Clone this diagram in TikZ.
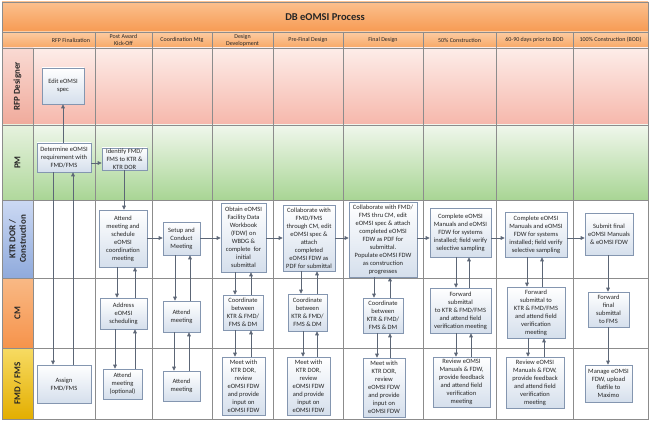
\documentclass[tikz,border=0pt]{standalone}
\usepackage{fontspec}
\setmainfont{Carlito}
\usetikzlibrary{arrows.meta,shadows}
\definecolor{gridc}{HTML}{8C8C8C}
\definecolor{titleTop}{HTML}{FBC08E}
\definecolor{titleBot}{HTML}{F79A52}
\definecolor{headTop}{HTML}{FCCCA2}
\definecolor{headBot}{HTML}{F8A765}
\definecolor{rfpTop}{HTML}{FDEDE9}
\definecolor{rfpBot}{HTML}{F6B7AB}
\definecolor{pmTop}{HTML}{F0F7EC}
\definecolor{pmBot}{HTML}{A8D594}
\definecolor{lrfpTop}{HTML}{F9DAD3}
\definecolor{lrfpBot}{HTML}{F0AA9B}
\definecolor{lpmTop}{HTML}{E6F2DE}
\definecolor{lpmBot}{HTML}{B0D89C}
\definecolor{lktrTop}{HTML}{CCD9F3}
\definecolor{lktrBot}{HTML}{8FAADC}
\definecolor{lcmTop}{HTML}{F9B985}
\definecolor{lcmBot}{HTML}{F6934B}
\definecolor{lfmdTop}{HTML}{F7DB63}
\definecolor{lfmdBot}{HTML}{E3AE00}
\definecolor{boxline}{HTML}{8496B0}
\definecolor{boxbot}{HTML}{D5DFEC}
\definecolor{boxtext}{HTML}{262626}
\definecolor{arrc}{HTML}{5C6676}
\definecolor{labtext}{HTML}{262626}
\newcommand\arrdn[3]{\draw[arr] (#3,0 |- #1.south) -- (#3,0 |- #2.north);}
\newcommand\arrup[3]{\draw[arr] (#3,0 |- #2.north) -- (#3,0 |- #1.south);}
\begin{document}
\begin{tikzpicture}[x=1pt,y=-1pt,
  grid/.style={draw=gridc,line width=0.7pt},
  box/.style={draw=boxline,line width=0.6pt,top color=white,bottom color=boxbot,
    align=center,inner sep=0.5pt,text=boxtext,
    font=\fontsize{6.5}{8}\selectfont,
    drop shadow={opacity=0.25,shadow xshift=1pt,shadow yshift=-1pt}},
  sz/.style 2 args={minimum width=#1pt,minimum height=#2pt},
  arr/.style={draw=arrc,line width=0.7pt,-{Triangle[length=4pt,width=3.6pt]}},
  head/.style={font=\fontsize{6}{7}\selectfont,text=labtext,align=center,inner sep=0pt},
  lanelab/.style={font=\bfseries\fontsize{9}{10.5}\selectfont,text=labtext,rotate=90,align=center,inner sep=0pt}]
\useasboundingbox (0,0) rectangle (650,422);
% backgrounds
\shade[top color=titleTop,bottom color=titleBot] (2,2) rectangle (648,32);
\shade[top color=headTop,bottom color=headBot] (2,32) rectangle (648,48);
\shade[top color=rfpTop,bottom color=rfpBot] (33,48) rectangle (648,125);
\shade[top color=pmTop,bottom color=pmBot] (33,125) rectangle (648,200);
\fill[white] (33,200) rectangle (648,419);
\shade[top color=lrfpTop,bottom color=lrfpBot] (2,48) rectangle (33,125);
\shade[top color=lpmTop,bottom color=lpmBot] (2,125) rectangle (33,200);
\shade[top color=lktrTop,bottom color=lktrBot] (2,200) rectangle (33,278);
\shade[top color=lcmTop,bottom color=lcmBot] (2,278) rectangle (33,348);
\shade[top color=lfmdTop,bottom color=lfmdBot] (2,348) rectangle (33,419);
% grid
\foreach \yy in {32,48,125,200,278,348}{\draw[grid] (2,\yy) -- (648,\yy);}
\draw[grid] (2,2) rectangle (648,419);
\draw[grid] (33,48) -- (33,419);
\foreach \xx in {95,152,212,273,343,423,496,573}{\draw[grid] (\xx,32) -- (\xx,419);}
% title and headers
\node[font=\bfseries\fontsize{10.5}{12}\selectfont,text=labtext] (title) at (325,17) {DB eOMSI Process};
\node[head] (h1) at (71,40) {RFP Finalization};
\node[head] (h2) at (123.5,40) {Post Award\\Kick-Off};
\node[head] (h3) at (182,40) {Coordination Mtg};
\node[head] (h4) at (242.5,40) {Design\\Development};
\node[head] (h5) at (308,40) {Pre-Final Design};
\node[head] (h6) at (383,40) {Final Design};
\node[head] (h7) at (459.5,40) {50\% Construction};
\node[head] (h8) at (534.5,40) {60-90 days prior to BOD};
\node[head] (h9) at (610.5,40) {100\% Construction (BOD)};
% lane labels
\node[lanelab] (lrfp) at (17.5,86.5) {RFP Designer};
\node[lanelab] (lpm) at (17.5,162.5) {PM};
\node[lanelab] (lktr) at (17.5,239) {KTR DOR /\\Construction};
\node[lanelab] (lcm) at (17.5,313) {CM};
\node[lanelab] (lfmd) at (17.5,383.5) {FMD / FMS};
% boxes
\node[box,sz={42}{36}] (edit) at (63,86) {Edit eOMSI\\spec};
\node[box,sz={54}{29}] (det) at (64,157.5) {Determine eOMSI\\requirement with\\FMD/FMS};
\node[box,sz={45}{22}] (ident) at (124.5,159) {Identify FMD/\\FMS to KTR \&\\KTR DOR};
\node[box,sz={48}{57}] (attsch) at (123,238.5) {Attend\\meeting and\\schedule\\eOMSI\\coordination\\meeting};
\node[box,sz={37}{33}] (setup) at (181.5,238.5) {Setup and\\Conduct\\Meeting};
\node[box,sz={45}{69}] (obtain) at (243.5,237.5) {Obtain eOMSI\\Facility Data\\Workbook\\(FDW) on\\WBDG \&\\complete\ \ for\\initial\\submittal};
\node[box,sz={52}{66}] (collab1) at (309,238) {Collaborate with\\FMD/FMS\\through CM, edit\\eOMSI spec \&\\attach\\completed\\eOMSI FDW as\\PDF for submittal};
\node[box,sz={68}{75}] (collab2) at (383,239.5) {Collaborate with FMD/\\FMS thru CM, edit\\eOMSI spec \& attach\\completed eOMSI\\FDW as PDF for\\submittal.\\Populate eOMSI FDW\\as construction\\progresses};
\node[box,sz={61}{49}] (comp1) at (460.5,232.5) {Complete eOMSI\\Manuals and eOMSI\\FDW for systems\\installed; field verify\\selective sampling};
\node[box,sz={62}{45}] (comp2) at (536,234.5) {Complete eOMSI\\Manuals and eOMSI\\FDW for systems\\installed; field verify\\selective sampling};
\node[box,sz={48}{42}] (submit) at (609,234) {Submit final\\eOMSI Manuals\\\& eOMSI FDW};
\node[box,sz={47}{31}] (address) at (123.5,313.5) {Address\\eOMSI\\scheduling};
\node[box,sz={37}{31}] (cmatt) at (181.5,316.5) {Attend\\meeting};
\node[box,sz={40}{35}] (coord1) at (243,312.5) {Coordinate\\between\\KTR \& FMD/\\FMS \& DM};
\node[box,sz={39}{37}] (coord2) at (307.5,312.5) {Coordinate\\between\\KTR \& FMD/\\FMS \& DM};
\node[box,sz={40}{35}] (coord3) at (383,315.5) {Coordinate\\between\\KTR \& FMD/\\FMS \& DM};
\node[box,sz={61}{45}] (fwd1) at (460.5,310.5) {Forward\\submittal\\to KTR \& FMD/FMS\\and attend field\\verification meeting};
\node[box,sz={58}{51}] (fwd2) at (536,312.5) {Forward\\submittal to\\KTR \& FMD/FMS\\and attend field\\verification\\meeting};
\node[box,sz={41}{35}] (fwdf) at (608.5,309.5) {Forward\\final\\submittal\\to FMS};
\node[box,sz={54}{38}] (assign) at (64,384) {Assign\\FMD/FMS};
\node[box,sz={39}{30}] (attopt) at (122.5,384) {Attend\\meeting\\(optional)};
\node[box,sz={37}{30}] (fmdatt) at (181.5,386) {Attend\\meeting};
\node[box,sz={43}{58}] (meet1) at (243.5,386) {Meet with\\KTR DOR,\\review\\eOMSI FDW\\and provide\\input on\\eOMSI FDW};
\node[box,sz={43}{58}] (meet2) at (308.5,386) {Meet with\\KTR DOR,\\review\\eOMSI FDW\\and provide\\input on\\eOMSI FDW};
\node[box,sz={42}{59}] (meet3) at (384,387.5) {Meet with\\KTR DOR,\\review\\eOMSI FDW\\and provide\\input on\\eOMSI FDW};
\node[box,sz={57}{50}] (review1) at (461.5,382) {Review eOMSI\\Manuals \& FDW,\\provide feedback\\and attend field\\verification\\meeting};
\node[box,sz={58}{51}] (review2) at (535,382.5) {Review eOMSI\\Manuals \& FDW,\\provide feedback\\and attend field\\verification\\meeting};
\node[box,sz={47}{37}] (manage) at (608.5,383.5) {Manage eOMSI\\FDW, upload\\flatfile to\\Maximo};
% horizontal connectors
\draw[arr] (det.east |- 0,163) -- (ident.west |- 0,163);
\coordinate (row) at (0,238);
\draw[arr] (attsch.east |- row) -- (setup.west |- row);
\draw[arr] (setup.east |- row) -- (obtain.west |- row);
\draw[arr] (obtain.east |- row) -- (collab1.west |- row);
\draw[arr] (collab1.east |- row) -- (collab2.west |- row);
\draw[arr] (collab2.east |- row) -- (comp1.west |- row);
\draw[arr] (comp1.east |- row) -- (comp2.west |- row);
\draw[arr] (comp2.east |- row) -- (submit.west |- row);
% vertical connectors
\draw[arr] (63,0 |- det.north) -- (63,0 |- edit.south);
\arrdn{det}{assign}{53}
\arrup{det}{assign}{73}
\arrdn{ident}{attsch}{124}
\arrdn{attsch}{address}{117}
\arrup{attsch}{address}{135}
\arrdn{address}{attopt}{115}
\arrup{address}{attopt}{135}
\arrdn{setup}{cmatt}{175}
\arrup{setup}{cmatt}{190}
\arrdn{cmatt}{fmdatt}{174}
\arrup{cmatt}{fmdatt}{189}
\arrdn{obtain}{coord1}{235}
\arrup{obtain}{coord1}{251}
\arrdn{coord1}{meet1}{235}
\arrup{coord1}{meet1}{251}
\arrdn{collab1}{coord2}{301}
\arrup{collab1}{coord2}{317}
\arrdn{coord2}{meet2}{303}
\arrup{coord2}{meet2}{317}
\arrdn{collab2}{coord3}{374}
\arrup{collab2}{coord3}{390}
\arrdn{coord3}{meet3}{377}
\arrup{coord3}{meet3}{390}
\arrdn{comp1}{fwd1}{456}
\arrup{comp1}{fwd1}{469}
\arrdn{fwd1}{review1}{456}
\arrup{fwd1}{review1}{471}
\arrdn{comp2}{fwd2}{527}
\arrup{comp2}{fwd2}{542}
\arrdn{fwd2}{review2}{528}
\arrup{fwd2}{review2}{544}
\arrdn{submit}{fwdf}{608}
\arrdn{fwdf}{manage}{608}
\end{tikzpicture}
\end{document}
